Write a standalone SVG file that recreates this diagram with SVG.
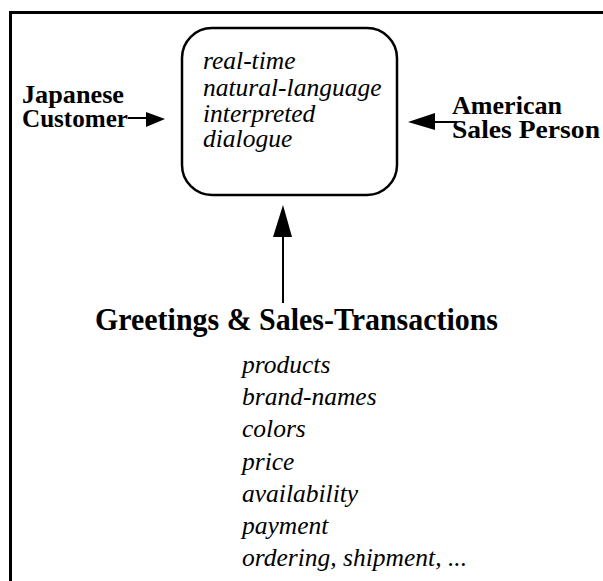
<svg xmlns="http://www.w3.org/2000/svg" width="603" height="581" viewBox="0 0 603 581">
<style>
.frame{fill:none;stroke:#000;stroke-width:3}
.box{fill:none;stroke:#000;stroke-width:2.5}
.lbl{font-family:"Liberation Serif","Times New Roman",serif;font-weight:bold;font-size:26px;fill:#000}
.it{font-family:"Liberation Serif","Times New Roman",serif;font-style:italic;font-size:25.5px;fill:#000}
.title{font-family:"Liberation Serif","Times New Roman",serif;font-weight:bold;font-size:31px;fill:#000}
.line{stroke:#000;stroke-width:2;fill:none}
.head{fill:#000;stroke:none}
</style>
<rect width="603" height="581" fill="#fff"/>
<path class="frame" d="M10.5,581 V12.5 H603"/>
<g id="dialogue">
<rect class="box" x="182" y="28" width="215" height="167" rx="30" ry="30"/>
<text class="it" x="203" y="69">real-time</text>
<text class="it" x="203" y="96">natural-language</text>
<text class="it" x="203" y="122">interpreted</text>
<text class="it" x="203" y="147">dialogue</text>
</g>
<g id="japanese">
<text class="lbl" x="22" y="103" textLength="102" lengthAdjust="spacingAndGlyphs">Japanese</text>
<text class="lbl" x="22" y="127" textLength="106" lengthAdjust="spacingAndGlyphs">Customer</text>
</g>
<g id="american">
<text class="lbl" x="452" y="114" textLength="110" lengthAdjust="spacingAndGlyphs">American</text>
<text class="lbl" x="452" y="138" textLength="148" lengthAdjust="spacingAndGlyphs">Sales Person</text>
</g>
<g id="domain">
<text class="title" x="95" y="330" textLength="403" lengthAdjust="spacingAndGlyphs">Greetings &amp; Sales-Transactions</text>
<text class="it" x="242" y="373">products</text>
<text class="it" x="242" y="405">brand-names</text>
<text class="it" x="242" y="437">colors</text>
<text class="it" x="242" y="470">price</text>
<text class="it" x="242" y="502">availability</text>
<text class="it" x="242" y="534">payment</text>
<text class="it" x="242" y="566">ordering, shipment, ...</text>
</g>
<g id="connectors">
<line class="line" x1="128" y1="118" x2="148" y2="118"/>
<polygon class="head" points="165,119 146,112 146,127"/>
<line class="line" x1="457" y1="122" x2="433" y2="122"/>
<polygon class="head" points="408,122 435,113 435,130"/>
<line class="line" x1="283" y1="303" x2="283" y2="235"/>
<polygon class="head" points="283,205 273,237 292,237"/>
</g>
</svg>
